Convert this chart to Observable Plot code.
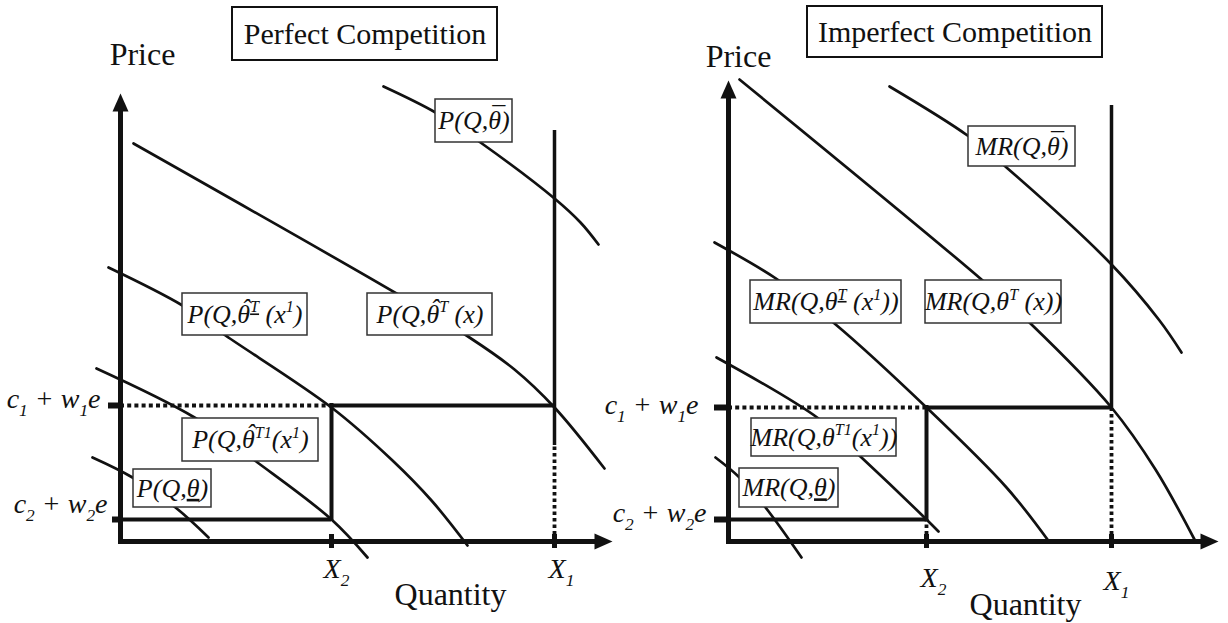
<!DOCTYPE html>
<html><head><meta charset="utf-8">
<script src="https://cdn.jsdelivr.net/npm/d3@7"></script>
<script src="https://cdn.jsdelivr.net/npm/@observablehq/plot@0.6"></script>
<style>
body{margin:0;background:#fff}
#wrap{display:flex;width:1228px;height:623px;background:#fff}
#wrap svg{overflow:visible;flex:none}
</style>
</head><body><div id="wrap"></div>
<script>
// ---------- DATA (quantity, price); 0,0 is where the axes meet ----------
const titles = ["Perfect Competition", "Imperfect Competition"];
const axisNames = ["Price", "Quantity"];
const priceTickLabels = ["c_{1} + w_{1}e", "c_{2} + w_{2}e"];
const quantityTickLabels = ["X_{2}", "X_{1}"];

// Perfect competition
const pcPriceLevels = [136, 22];          // c1+w1e, c2+w2e
const pcQuantities = [211, 434];          // X2, X1
const pcCurveLabels = [
  "P(Q,θ\u0304)",
  "P(Q,θ\u0302^{T} (x)",
  "P(Q,θ\u0302^{T\u0332} (x^{1})",
  "P(Q,θ\u0302^{T1}(x^{1})",
  "P(Q,θ\u0332)"
];
const pcThetaBar     = [[263,455],[315,429],[360,399],[434,343],[460,319],[478,297]];
const pcThetaHatT    = [[13,398],[276,248],[349,204],[394,172],[434,134],[484,73]];
const pcThetaHatTLow = [[-12,274],[62,236],[105,206],[211,134],[272,81],[311,41],[347,-4]];
const pcThetaHatT1   = [[-24,173],[74,124],[137,79],[211,22],[247,-16]];
const pcThetaLow     = [[-28,84],[12,64],[55,34],[88,4]];

// Imperfect competition
const icPriceLevels = [134, 22];
const icQuantities = [198, 383];
const icCurveLabels = [
  "MR(Q,θ\u0304)",
  "MR(Q,θ^{T} (x))",
  "MR(Q,θ^{T\u0332} (x^{1}))",
  "MR(Q,θ^{T1}(x^{1}))",
  "MR(Q,θ\u0332)"
];
const icThetaBar  = [[161,455],[239,406],[278,374],[383,277],[431,221],[453,189]];
const icThetaT    = [[11,462],[253,262],[302,218],[383,134],[427,72],[466,2]];
const icThetaTLow = [[-14,299],[49,262],[106,218],[198,134],[278,54],[319,2]];
const icThetaT1   = [[-12,184],[90,123],[133,84],[198,22],[210,10]];
const icThetaLow  = [[-13,84],[11,64],[37,34],[73,-16]];

// ---------- LAYOUT ----------
const W = 614, H = 623, OY = 541;
const SERIF = "'Liberation Serif','Times New Roman',serif";
const INK = "#111";

const panels = [
  {
    title: titles[0], levels: pcPriceLevels, quantities: pcQuantities,
    curves: [pcThetaBar, pcThetaHatT, pcThetaHatTLow, pcThetaHatT1, pcThetaLow],
    labels: pcCurveLabels,
    layout: {
      originX: 120, yTip: 448, xTip: 492, x1Top: 411, x1SolidBottom: 96, x2DottedBelow: false,
      yTickLen: [12, 8],
      price: [22, 487], quantity: [330, -53],
      titleBox: [112, 377, 481, 534],
      cLabels: [[-20, 142], [-13, 37]],
      xLabels: [[216, -28], [441, -28]],
      boxes: [[315,392,399,442],[247,372,206,248],[62,187,206,248],[62,198,80,123],[13,91,34,72]]
    }
  },
  {
    title: titles[1], levels: icPriceLevels, quantities: icQuantities,
    curves: [icThetaBar, icThetaT, icThetaTLow, icThetaT1, icThetaLow],
    labels: icCurveLabels,
    layout: {
      originX: 114, yTip: 461, xTip: 490, x1Top: 436, x1SolidBottom: null, x2DottedBelow: true,
      yTickLen: [14, 14],
      price: [10, 485], quantity: [297, -63],
      titleBox: [79, 374, 484, 535],
      cLabels: [[-30, 136], [-22, 28]],
      xLabels: [[205, -37], [388, -40]],
      boxes: [[240,347,375,415],[197,333,218,261],[22,173,218,261],[23,168,85,123],[11,110,34,73]]
    }
  }
];

function drawPanel(d) {
  const L = d.layout;
  const [c1, c2] = d.levels;
  const [x2, x1] = d.quantities;
  const dots = "4,3.2";
  const marks = [];
  for (const c of d.curves) {
    marks.push(Plot.line(c, {x: v => v[0], y: v => v[1], curve: "catmull-rom", stroke: INK, strokeWidth: 2.7}));
  }
  marks.push(
    Plot.ruleY([c1], {x1: 0, x2: x2, stroke: INK, strokeWidth: 4.2, strokeDasharray: dots}),
    Plot.ruleY([c1], {x1: x2, x2: x1, stroke: INK, strokeWidth: 4.2}),
    Plot.ruleY([c2], {x1: 0, x2: x2, stroke: INK, strokeWidth: 4.2}),
    Plot.ruleX([x2], {y1: c2 - 2, y2: c1 + 2, stroke: INK, strokeWidth: 4}),
    Plot.ruleX([x1], {y1: L.x1SolidBottom ?? c1, y2: L.x1Top, stroke: INK, strokeWidth: 3.5}),
    Plot.ruleX([x1], {y1: 0, y2: L.x1SolidBottom ?? c1, stroke: INK, strokeWidth: 3.8, strokeDasharray: "3.5,3"})
  );
  if (L.x2DottedBelow) marks.push(Plot.ruleX([x2], {y1: 0, y2: c2, stroke: INK, strokeWidth: 3.8, strokeDasharray: "3.5,3"}));
  marks.push(
    Plot.ruleX([0], {y1: -2, y2: L.yTip - 16, stroke: INK, strokeWidth: 5}),
    Plot.ruleY([0], {x1: -2, x2: L.xTip - 16, stroke: INK, strokeWidth: 5}),
    Plot.vector([0], {x: 0, y: L.yTip - 18, length: 18, r: 8, rotate: 0, shape: "spike", anchor: "start", fill: INK, stroke: "none"}),
    Plot.vector([0], {x: L.xTip - 18, y: 0, length: 18, r: 8, rotate: 90, shape: "spike", anchor: "start", fill: INK, stroke: "none"}),
    Plot.ruleY([c1], {x1: -L.yTickLen[0], x2: 0, stroke: INK, strokeWidth: 6}),
    Plot.ruleY([c2], {x1: -L.yTickLen[1], x2: 0, stroke: INK, strokeWidth: 6}),
    Plot.ruleX(d.quantities, {y1: -7, y2: 7, stroke: INK, strokeWidth: 5})
  );
  const boxes = L.boxes.map((b, i) => ({q1: b[0], q2: b[1], p1: b[2], p2: b[3], t: d.labels[i]}));
  marks.push(
    Plot.rect(boxes, {x1: "q1", x2: "q2", y1: "p1", y2: "p2", fill: "white", stroke: "#333", strokeWidth: 1.5}),
    Plot.text(boxes, {x: b => (b.q1 + b.q2) / 2, y: b => (b.p1 + b.p2) / 2, text: "t", fontSize: 26, fontStyle: "italic", fontFamily: SERIF, fill: INK})
  );
  const tb = L.titleBox;
  marks.push(
    Plot.rect([d.title], {x1: tb[0], x2: tb[1], y1: tb[2], y2: tb[3], fill: "white", stroke: INK, strokeWidth: 2}),
    Plot.text([d.title], {x: (tb[0] + tb[1]) / 2, y: (tb[2] + tb[3]) / 2, text: t => t, fontSize: 30, fontFamily: SERIF, fill: INK})
  );
  marks.push(
    Plot.text([axisNames[0]], {x: L.price[0], y: L.price[1], text: t => t, fontSize: 32, fontFamily: SERIF, fill: INK}),
    Plot.text([axisNames[1]], {x: L.quantity[0], y: L.quantity[1], text: t => t, fontSize: 32, fontFamily: SERIF, fill: INK})
  );
  marks.push(
    Plot.text(priceTickLabels, {x: (t, i) => L.cLabels[i][0], y: (t, i) => L.cLabels[i][1], text: t => t, textAnchor: "end", fontSize: 28, fontStyle: "italic", fontFamily: SERIF, fill: INK}),
    Plot.text(quantityTickLabels, {x: (t, i) => L.xLabels[i][0], y: (t, i) => L.xLabels[i][1], text: t => t, fontSize: 28, fontStyle: "italic", fontFamily: SERIF, fill: INK})
  );
  return Plot.plot({
    width: W, height: H, margin: 0,
    x: {domain: [-L.originX, W - L.originX], range: [0, W], axis: null},
    y: {domain: [OY - H, OY], range: [H, 0], axis: null},
    style: {background: "white", overflow: "visible"},
    marks
  });
}

// ^{..} -> superscript, _{..} -> subscript.
// hat / bar: spacing accent glyph kept in the same tspan as its letter, placed with per-glyph dx/dy;
// underline: text-decoration.
const ACC = {"\u0302": {g: "\u02C6", dy: -0.24, sl: 0.08}, "\u0304": {g: "\u00AF", dy: -0.2, sl: 0.08}};
function richText(svg) {
  const NS = "http://www.w3.org/2000/svg";
  svg.querySelectorAll("text").forEach(t => {
    const s = t.textContent;
    if (!/[\^_]\{|[\u0302\u0304\u0332]/.test(s)) return;
    const fs = parseFloat(getComputedStyle(t).fontSize) || 26;
    const parts = [];
    const re = /([\^_])\{([^}]*)\}/g;
    let last = 0, m;
    while ((m = re.exec(s))) {
      if (m.index > last) parts.push({t: s.slice(last, m.index), k: 0});
      parts.push({t: m[2], k: m[1] === "^" ? -1 : 1});
      last = re.lastIndex;
    }
    if (last < s.length) parts.push({t: s.slice(last), k: 0});
    const runs = [];
    for (const p of parts) {
      const rr = /(.)([\u0302\u0304\u0332])/g;
      let l = 0, mm;
      while ((mm = rr.exec(p.t))) {
        if (mm.index > l) runs.push({t: p.t.slice(l, mm.index), k: p.k});
        runs.push({t: mm[1], k: p.k, acc: mm[2]});
        l = rr.lastIndex;
      }
      if (l < p.t.length) runs.push({t: p.t.slice(l), k: p.k});
    }
    while (t.firstChild) t.removeChild(t.firstChild);
    let cur = 0;
    const fixes = [];
    for (const r of runs) {
      const size = r.k ? 0.62 * fs : fs;
      const target = r.k === -1 ? -0.4 * fs : r.k === 1 ? 0.26 * fs : 0;
      const ts = document.createElementNS(NS, "tspan");
      const dy0 = target - cur;
      cur = target;
      if (r.k) ts.setAttribute("font-size", size.toFixed(2));
      if (r.acc === "\u0332") {
        ts.setAttribute("text-decoration", "underline");
        ts.textContent = r.t;
        if (Math.abs(dy0) > 1e-6) ts.setAttribute("dy", dy0.toFixed(2));
      } else if (r.acc) {
        const a = ACC[r.acc];
        const ady = a.dy * size;
        ts.textContent = r.t + a.g;
        ts.setAttribute("dy", `${dy0.toFixed(2)} ${ady.toFixed(2)}`);
        cur = target + ady;
        fixes.push({ts, sl: a.sl * size});
      } else {
        ts.textContent = r.t;
        if (Math.abs(dy0) > 1e-6) ts.setAttribute("dy", dy0.toFixed(2));
      }
      t.appendChild(ts);
    }
    for (const f of fixes) {
      const wb = f.ts.getSubStringLength(0, 1);
      const wa = f.ts.getSubStringLength(1, 1);
      f.ts.setAttribute("dx", `0 ${(-(wb + wa) / 2 + f.sl).toFixed(2)}`);
      const next = f.ts.nextSibling;
      if (next) next.setAttribute("dx", ((wb - wa) / 2 - f.sl).toFixed(2));
    }
  });
}

const wrap = document.getElementById("wrap");
for (const p of panels) {
  const svg = drawPanel(p);
  wrap.appendChild(svg);
  richText(svg);
}
</script>
</body></html>
